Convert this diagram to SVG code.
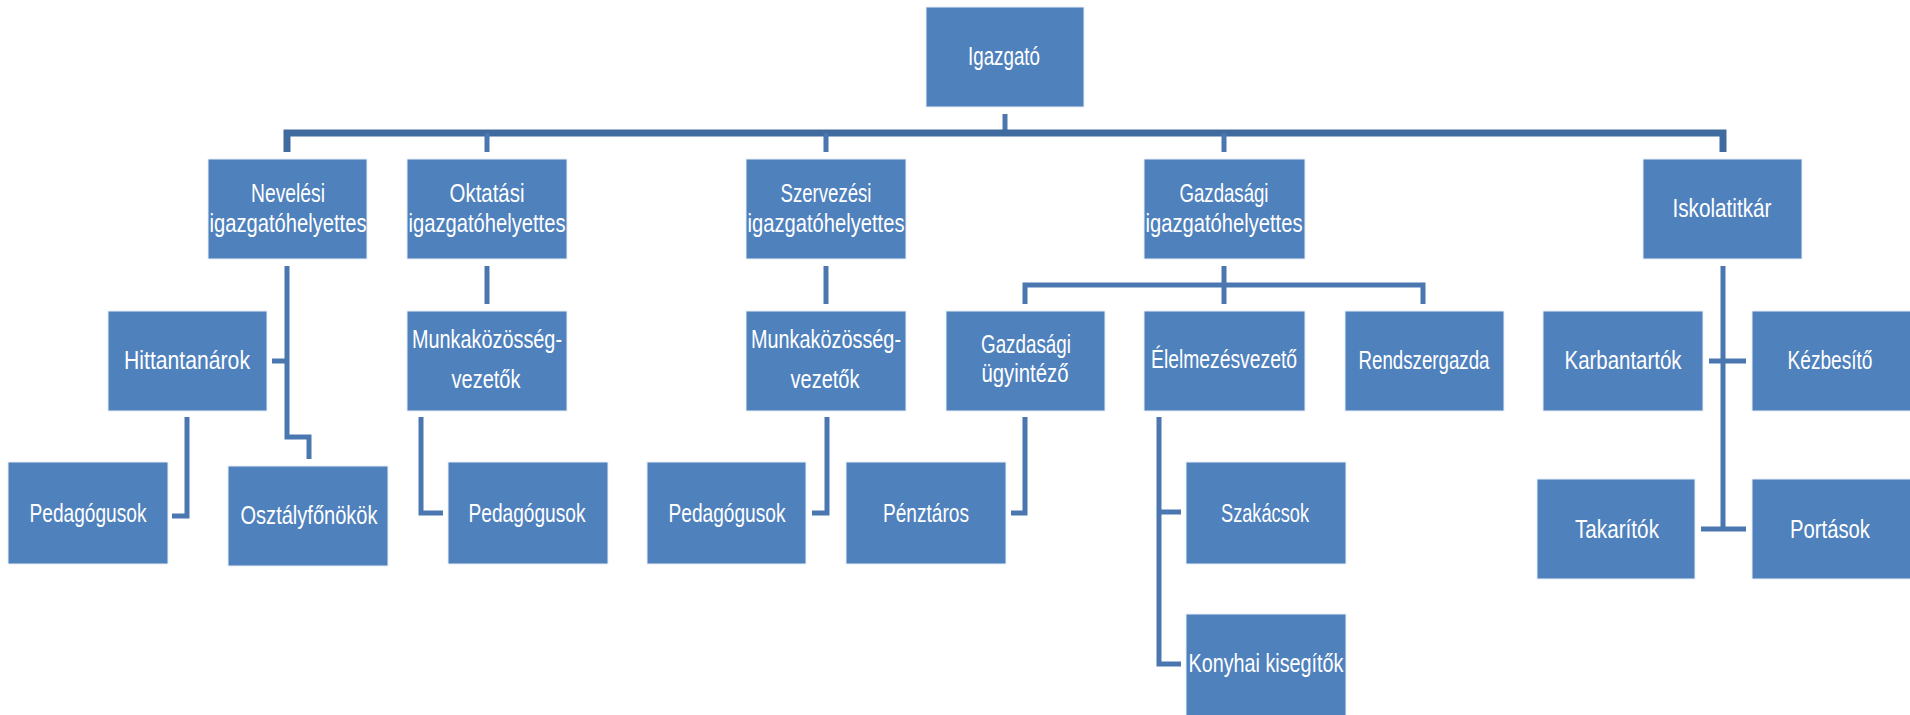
<svg xmlns="http://www.w3.org/2000/svg" width="1910" height="715" viewBox="0 0 1910 715">
<style>
.box{fill:#4f81bd;stroke:#e8eef7;stroke-width:1}
.t{fill:#ffffff;font-family:"Liberation Sans",Arial,sans-serif;font-size:26px;text-anchor:middle}
.c{fill:none;stroke:#4a77b0;stroke-width:5}
.bus{fill:none;stroke:#3f6b9f;stroke-width:7}
</style>
<rect width="1910" height="715" fill="#ffffff"/>
<g id="connectors">
<path class="c" d="M1005 114V133"/>
<path class="bus" d="M287 152V133H1723V152"/>
<path class="c" d="M487 133V152M826 133V152M1224 133V152"/>
<path class="c" d="M287 266V437H309V459M287 361H272"/>
<path class="c" d="M187 417V516H172"/>
<path class="c" d="M487 266V304"/>
<path class="c" d="M826 266V304"/>
<path class="c" d="M421 417V513H443"/>
<path class="c" d="M827 417V513H812"/>
<path class="c" d="M1224 266V304M1025 304V285H1423V304"/>
<path class="c" d="M1025 417V513H1011"/>
<path class="c" d="M1159 417V664H1181M1159 512H1181"/>
<path class="c" d="M1723 266V530M1709 361H1746M1701 529H1746"/>
</g>
<g id="n-igazgato"><rect class="box" x="926" y="7" width="158" height="100"/><text class="t" x="1004" y="65" textLength="72" lengthAdjust="spacingAndGlyphs">Igazgató</text></g>
<g id="n-neveles"><rect class="box" x="208" y="159" width="159" height="100"/><text class="t" x="288" y="202" textLength="74" lengthAdjust="spacingAndGlyphs">Nevelési</text><text class="t" x="288" y="232" textLength="157" lengthAdjust="spacingAndGlyphs">igazgatóhelyettes</text></g>
<g id="n-oktatasi"><rect class="box" x="407" y="159" width="160" height="100"/><text class="t" x="487" y="202" textLength="75" lengthAdjust="spacingAndGlyphs">Oktatási</text><text class="t" x="487" y="232" textLength="157" lengthAdjust="spacingAndGlyphs">igazgatóhelyettes</text></g>
<g id="n-szervezesi"><rect class="box" x="746" y="159" width="160" height="100"/><text class="t" x="826" y="202" textLength="91" lengthAdjust="spacingAndGlyphs">Szervezési</text><text class="t" x="826" y="232" textLength="157" lengthAdjust="spacingAndGlyphs">igazgatóhelyettes</text></g>
<g id="n-gazdasagi"><rect class="box" x="1144" y="159" width="161" height="100"/><text class="t" x="1224" y="202" textLength="89" lengthAdjust="spacingAndGlyphs">Gazdasági</text><text class="t" x="1224" y="232" textLength="157" lengthAdjust="spacingAndGlyphs">igazgatóhelyettes</text></g>
<g id="n-iskolatitkar"><rect class="box" x="1643" y="159" width="159" height="100"/><text class="t" x="1722" y="217" textLength="99" lengthAdjust="spacingAndGlyphs">Iskolatitkár</text></g>
<g id="n-hittan"><rect class="box" x="108" y="311" width="159" height="100"/><text class="t" x="187" y="369" textLength="126" lengthAdjust="spacingAndGlyphs">Hittantanárok</text></g>
<g id="n-munka1"><rect class="box" x="407" y="311" width="160" height="100"/><text class="t" x="487" y="348" textLength="150" lengthAdjust="spacingAndGlyphs">Munkaközösség-</text><text class="t" x="486" y="388" textLength="69" lengthAdjust="spacingAndGlyphs">vezetők</text></g>
<g id="n-munka2"><rect class="box" x="746" y="311" width="160" height="100"/><text class="t" x="826" y="348" textLength="150" lengthAdjust="spacingAndGlyphs">Munkaközösség-</text><text class="t" x="825" y="388" textLength="69" lengthAdjust="spacingAndGlyphs">vezetők</text></g>
<g id="n-ugyintezo"><rect class="box" x="946" y="311" width="159" height="100"/><text class="t" x="1026" y="353" textLength="90" lengthAdjust="spacingAndGlyphs">Gazdasági</text><text class="t" x="1025" y="382" textLength="87" lengthAdjust="spacingAndGlyphs">ügyintéző</text></g>
<g id="n-elelmezes"><rect class="box" x="1144" y="311" width="161" height="100"/><text class="t" x="1224" y="368" textLength="146" lengthAdjust="spacingAndGlyphs">Élelmezésvezető</text></g>
<g id="n-rendszergazda"><rect class="box" x="1345" y="311" width="159" height="100"/><text class="t" x="1424" y="369" textLength="131" lengthAdjust="spacingAndGlyphs">Rendszergazda</text></g>
<g id="n-karbantartok"><rect class="box" x="1543" y="311" width="160" height="100"/><text class="t" x="1623" y="369" textLength="117" lengthAdjust="spacingAndGlyphs">Karbantartók</text></g>
<g id="n-kezbesito"><rect class="box" x="1752" y="311" width="160" height="100"/><text class="t" x="1830" y="369" textLength="85" lengthAdjust="spacingAndGlyphs">Kézbesítő</text></g>
<g id="n-pedagogusok1"><rect class="box" x="8" y="462" width="160" height="102"/><text class="t" x="88" y="522" textLength="117" lengthAdjust="spacingAndGlyphs">Pedagógusok</text></g>
<g id="n-osztalyfonokok"><rect class="box" x="228" y="466" width="160" height="100"/><text class="t" x="309" y="524" textLength="137" lengthAdjust="spacingAndGlyphs">Osztályfőnökök</text></g>
<g id="n-pedagogusok2"><rect class="box" x="448" y="462" width="160" height="102"/><text class="t" x="527" y="522" textLength="117" lengthAdjust="spacingAndGlyphs">Pedagógusok</text></g>
<g id="n-pedagogusok3"><rect class="box" x="647" y="462" width="159" height="102"/><text class="t" x="727" y="522" textLength="117" lengthAdjust="spacingAndGlyphs">Pedagógusok</text></g>
<g id="n-penztaros"><rect class="box" x="846" y="462" width="160" height="102"/><text class="t" x="926" y="522" textLength="86" lengthAdjust="spacingAndGlyphs">Pénztáros</text></g>
<g id="n-szakacsok"><rect class="box" x="1186" y="462" width="160" height="102"/><text class="t" x="1265" y="522" textLength="88" lengthAdjust="spacingAndGlyphs">Szakácsok</text></g>
<g id="n-konyhai"><rect class="box" x="1186" y="614" width="160" height="104"/><text class="t" x="1266" y="672" textLength="155" lengthAdjust="spacingAndGlyphs">Konyhai kisegítők</text></g>
<g id="n-takaritok"><rect class="box" x="1537" y="479" width="158" height="100"/><text class="t" x="1617" y="538" textLength="84" lengthAdjust="spacingAndGlyphs">Takarítók</text></g>
<g id="n-portasok"><rect class="box" x="1752" y="479" width="160" height="100"/><text class="t" x="1830" y="538" textLength="80" lengthAdjust="spacingAndGlyphs">Portások</text></g>
</svg>
